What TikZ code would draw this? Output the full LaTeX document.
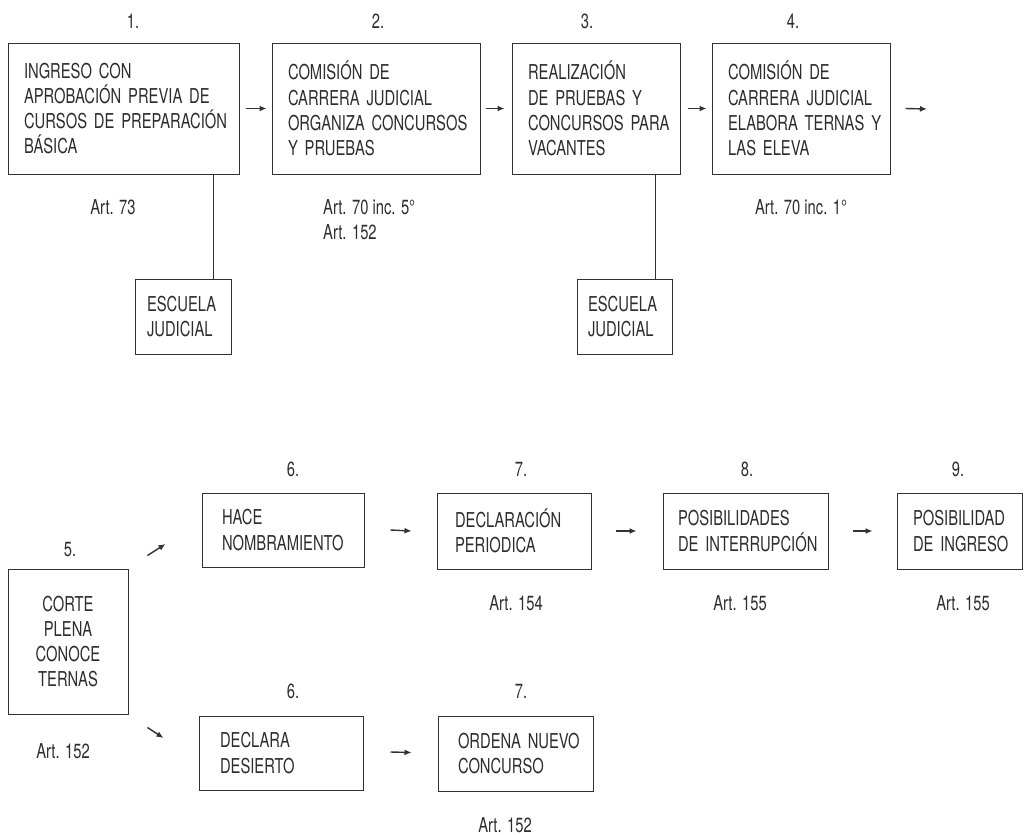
\documentclass[tikz,border=0pt]{standalone}
\usepackage{fontspec}
\setmainfont{TeX Gyre Heros}[FakeStretch=0.72]
\usetikzlibrary{arrows.meta,calc}
\definecolor{ink}{RGB}{45,45,45}
\definecolor{linec}{RGB}{50,50,50}
\newcommand{\oneline}[1]{\mbox{#1}}
\begin{document}
\begin{tikzpicture}[x=1pt,y=-1pt,
  every node/.style={text=ink,font=\fontsize{20.5}{25.3}\selectfont},
  box/.style={draw=linec,line width=1pt,inner xsep=0pt,inner ysep=0pt,align=left},
  cbox/.style={draw=linec,line width=1pt,inner xsep=0pt,inner ysep=0pt,align=center},
  lbl/.style={inner sep=0pt},
  arr/.style={draw=linec,line width=1.4pt,-{Latex[length=7pt,width=6pt]}},
  conn/.style={draw=linec,line width=1pt}]
\useasboundingbox (0,0) rectangle (1028,835);
% top row
\node[box,minimum width=231,minimum height=131,text width=199] (b1) at (123.5,108.5)
  {\oneline{INGRESO CON}\\\oneline{APROBACIÓN PREVIA DE}\\\oneline{CURSOS DE PREPARACIÓN}\\\oneline{BÁSICA}};
\node[box,minimum width=208,minimum height=131,text width=176] (b2) at (376,108.5)
  {\oneline{COMISIÓN DE}\\\oneline{CARRERA JUDICIAL}\\\oneline{ORGANIZA CONCURSOS}\\\oneline{Y PRUEBAS}};
\node[box,minimum width=168,minimum height=131,text width=136] (b3) at (596,108.5)
  {\oneline{REALIZACIÓN}\\\oneline{DE PRUEBAS Y}\\\oneline{CONCURSOS PARA}\\\oneline{VACANTES}};
\node[box,minimum width=178,minimum height=131,text width=146] (b4) at (801,108.5)
  {\oneline{COMISIÓN DE}\\\oneline{CARRERA JUDICIAL}\\\oneline{ELABORA TERNAS Y}\\\oneline{LAS ELEVA}};
\node[box,minimum width=96,minimum height=75,text width=72] (e1) at (183,316.5)
  {\oneline{ESCUELA}\\\oneline{JUDICIAL}};
\node[box,minimum width=95,minimum height=75,text width=73] (e2) at (624.5,316.5)
  {\oneline{ESCUELA}\\\oneline{JUDICIAL}};
\node[lbl] (n1) at (133,21) {1.};
\node[lbl] (n2) at (378,21) {2.};
\node[lbl] (n3) at (587,21) {3.};
\node[lbl] (n4) at (793,21) {4.};
\node[lbl] (a1) at (113,207) {Art. 73};
\node[lbl,anchor=west,align=left] (a2) at (323,220) {Art. 70 inc. 5°\\Art. 152};
\node[lbl] (a4) at (801,207) {Art. 70 inc. 1°};
\coordinate (end4) at (927,109);
\draw[arr] ([shift={(6,0)}]b1.east) -- ([shift={(-5,0)}]b2.west);
\draw[arr] ([shift={(5,0)}]b2.east) -- ([shift={(-7,0)}]b3.west);
\draw[arr] ([shift={(7,0)}]b3.east) -- ([shift={(-5,0)}]b4.west);
\draw[arr] ([shift={(15,0)}]b4.east) -- (end4);
\draw[conn] ([shift={(-18,0)}]e1.north east) -- ([shift={(-18,0)}]e1.north east |- b1.south);
\draw[conn] ([shift={(-17,0)}]e2.north east) -- ([shift={(-17,0)}]e2.north east |- b3.south);
% bottom part
\node[cbox,minimum width=120,minimum height=145] (b5) at (68,641.5)
  {CORTE\\PLENA\\CONOCE\\TERNAS};
\node[box,minimum width=162,minimum height=74,text width=122] (b6a) at (283,530)
  {\oneline{HACE}\\\oneline{NOMBRAMIENTO}};
\node[box,minimum width=154,minimum height=76,text width=118] (b7a) at (514,531)
  {\oneline{DECLARACIÓN}\\\oneline{PERIODICA}};
\node[box,minimum width=165,minimum height=76,text width=135] (b8) at (745.5,531)
  {\oneline{POSIBILIDADES}\\\oneline{DE INTERRUPCIÓN}};
\node[box,minimum width=125,minimum height=76,text width=93] (b9) at (959.5,531)
  {\oneline{POSIBILIDAD}\\\oneline{DE INGRESO}};
\node[box,minimum width=164,minimum height=74,text width=122] (b6b) at (281,753)
  {\oneline{DECLARA}\\\oneline{DESIERTO}};
\node[box,minimum width=155,minimum height=75,text width=115] (b7b) at (515.5,753.5)
  {\oneline{ORDENA NUEVO}\\\oneline{CONCURSO}};
\node[lbl] (n5) at (70,550) {5.};
\node[lbl] (n6a) at (293,469) {6.};
\node[lbl] (n7a) at (521,469) {7.};
\node[lbl] (n8) at (747,469) {8.};
\node[lbl] (n9) at (958,469) {9.};
\node[lbl] (n6b) at (293,691) {6.};
\node[lbl] (n7b) at (521,691) {7.};
\node[lbl] (a5) at (63,751) {Art. 152};
\node[lbl] (a7a) at (516,603) {Art. 154};
\node[lbl] (a8) at (740,603) {Art. 155};
\node[lbl] (a9) at (963,603) {Art. 155};
\node[lbl] (a7b) at (505,825) {Art. 152};
\draw[arr] ([shift={(19,-13)}]b5.north east) -- ([shift={(-36,14)}]b6a.west);
\draw[arr] ([shift={(19,13)}]b5.south east) -- ([shift={(-35,-15)}]b6b.west);
\draw[arr] ([shift={(26,0)}]b6a.east) -- ([shift={(-25,0)}]b7a.west);
\draw[arr] ([shift={(24,0)}]b7a.east) -- ([shift={(-26,0)}]b8.west);
\draw[arr] ([shift={(24,0)}]b8.east) -- ([shift={(-24,0)}]b9.west);
\draw[arr] ([shift={(27,-1)}]b6b.east) -- ([shift={(-26,-1)}]b7b.west);
\end{tikzpicture}
\end{document}
